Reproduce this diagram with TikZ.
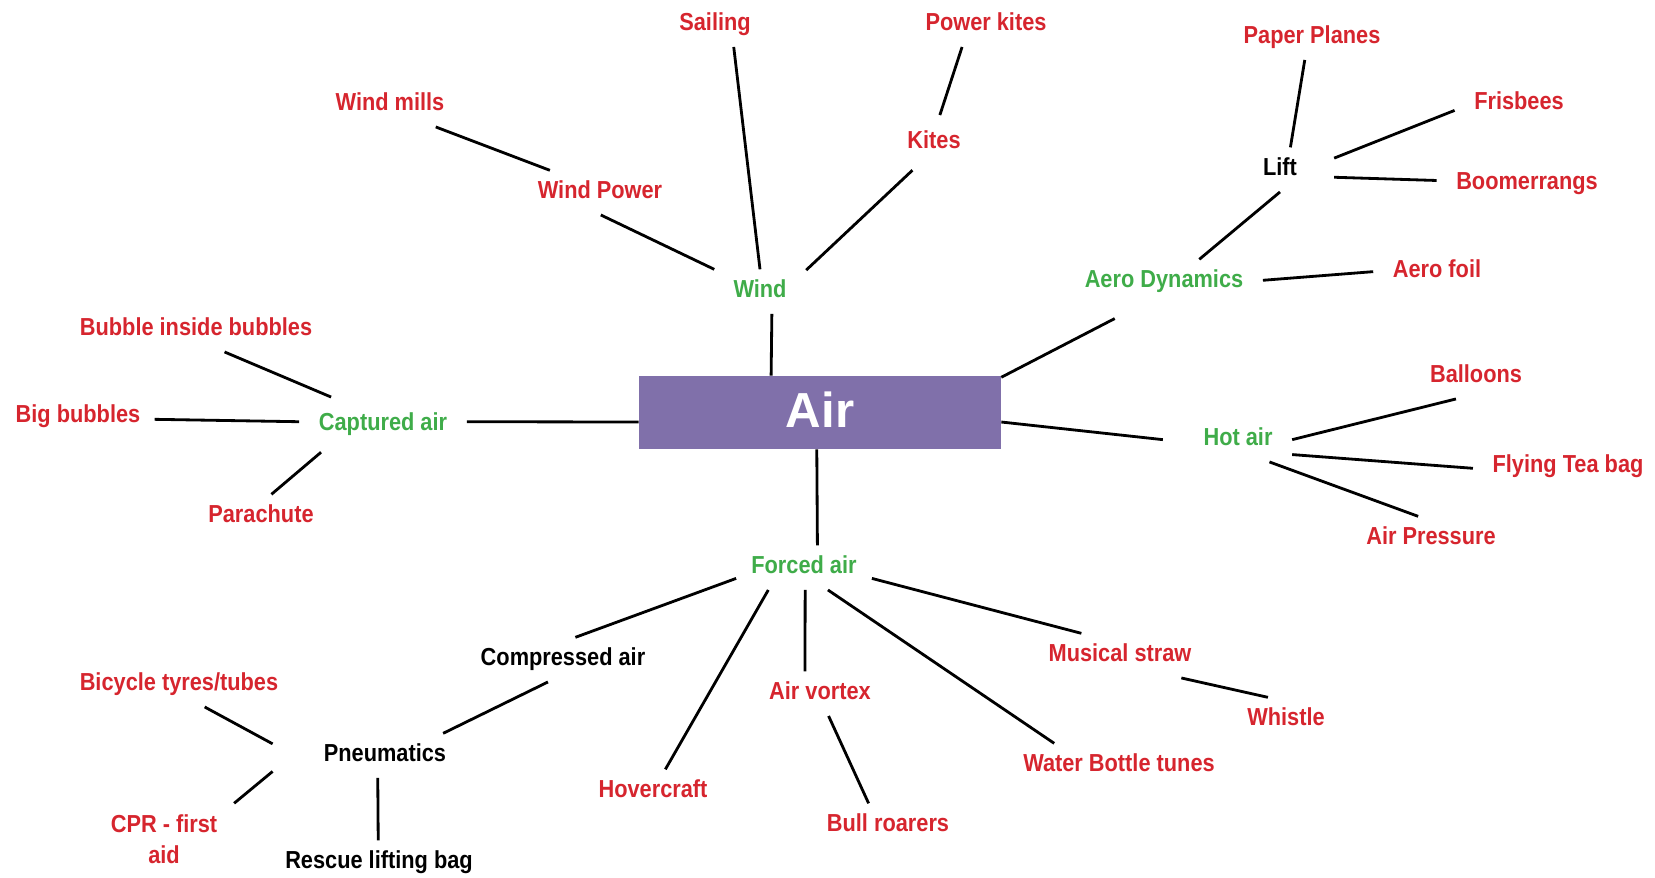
\documentclass[tikz,border=0pt]{standalone}
\usepackage{fontspec}
\setmainfont{Liberation Sans}
\newfontfamily\narrowsans{Liberation Sans}[FakeStretch=0.885]
\definecolor{airpurple}{RGB}{128,112,170}
\definecolor{airred}{RGB}{214,37,46}
\definecolor{airgreen}{RGB}{63,172,73}
\tikzset{
  lbl/.style={font=\narrowsans\bfseries\fontsize{14}{18}\selectfont, inner xsep=11pt, inner ysep=6pt},
  one/.style={lbl, text height=10pt, text depth=3pt, yshift=-1.5pt},
  idea/.style={one, text=airred},
  group/.style={one, text=airgreen},
  sub/.style={one, text=black},
  link/.style={line width=1.6pt},
}
\begin{document}
\begin{tikzpicture}[x=0.02cm,y=-0.02cm]
  \useasboundingbox (0,0) rectangle (1655,877);
  % centre
  \node (air) at (820,412.5) [fill=airpurple, minimum width=7.24cm, minimum height=1.46cm, inner sep=0pt,
    text=white, text depth=3.4pt, font=\bfseries\fontsize{28}{32}\selectfont] {Air};
  % wind
  \node (wind) at (760,289) [group] {Wind};
  \node (windpower) at (600,190) [idea] {Wind Power};
  \node (windmills) at (390,102) [idea] {Wind mills};
  \node (sailing) at (715,22) [idea] {Sailing};
  \node (kites) at (934,140) [idea, inner ysep=9pt] {Kites};
  \node (powerkites) at (986,22) [idea] {Power kites};
  % aero dynamics
  \node (aero) at (1164,286.3) [group, text depth=11.3pt] {Aero Dynamics};
  \node (lift) at (1280,167) [sub, inner xsep=21pt] {Lift};
  \node (paper) at (1312,35) [idea] {Paper Planes};
  \node (frisbees) at (1519,101) [idea] {Frisbees};
  \node (boomer) at (1527,181) [idea] {Boomerrangs};
  \node (aerofoil) at (1437,269) [idea] {Aero foil};
  % hot air
  \node (hotair) at (1227.5,437) [group, text width=1.8cm, align=flush right] {Hot air};
  \node (balloons) at (1476,374) [idea] {Balloons};
  \node (teabag) at (1568,464) [idea] {Flying Tea bag};
  \node (pressure) at (1431,536) [idea] {Air Pressure};
  % captured air
  \node (captured) at (383,422) [group, inner ysep=9pt] {Captured air};
  \node (bubble) at (196,327) [idea] {Bubble inside bubbles};
  \node (bigbub) at (78,414) [idea, inner xsep=8pt] {Big bubbles};
  \node (parachute) at (261,514) [idea] {Parachute};
  % forced air
  \node (forced) at (804,565) [group, inner xsep=8.5pt] {Forced air};
  \node (compressed) at (563,657) [sub] {Compressed air};
  \node (pneumatics) at (385,753) [sub, inner xsep=29pt] {Pneumatics};
  \node (bicycle) at (179,682) [idea] {Bicycle tyres/tubes};
  \node (cpr) at (164,839) [lbl, text=airred, align=center] {CPR - first\\aid};
  \node (rescue) at (379,860) [sub] {Rescue lifting bag};
  \node (hovercraft) at (653,789) [idea] {Hovercraft};
  \node (vortex) at (820,691) [idea] {Air vortex};
  \node (bull) at (888,823) [idea] {Bull roarers};
  \node (musical) at (1120,653) [idea] {Musical straw};
  \node (whistle) at (1286,717) [idea] {Whistle};
  \node (bottle) at (1119,763) [idea] {Water Bottle tunes};

  \draw [link] (air.143.7) -- (wind.298);
  \draw [link] (wind.154) -- (windpower.272);
  \draw [link] (windpower.156) -- (windmills.334.5);
  \draw [link] (wind.90) -- (sailing.310);
  \draw [link] (wind.25) -- (kites.232);
  \draw [link] (kites.78) -- (powerkites.223);
  \draw [link] (air.11.5) -- (aero.211);
  \draw [link] (aero.40.8) -- (lift.270);
  \draw [link] (aero.5.8) -- (aerofoil.180);
  \draw [link] (lift.65) -- (paper.252);
  \draw [link] (lift.12.5) -- (frisbees.186);
  \draw [link] (lift.352.5) -- (boomer.178.7);
  \draw [link] (air.357) -- (hotair.180);
  \draw [link] (hotair.0) -- (balloons.228);
  \draw [link] (hotair.347) -- (teabag.181);
  \draw [link] (hotair.332) -- (pressure.120.6);
  \draw [link] (air.183) -- (captured.2);
  \draw [link] (captured.152) -- (bubble.322.5);
  \draw [link] (captured.178.7) -- (bigbub.358.5);
  \draw [link] (captured.204) -- (parachute.65.4);
  \draw [link] (air.265.3) -- (forced.59);
  \draw [link] (forced.189.4) -- (compressed.61);
  \draw [link] (compressed.236) -- (pneumatics.21);
  \draw [link] (pneumatics.174.4) -- (bicycle.319);
  \draw [link] (pneumatics.188.6) -- (cpr.27.2);
  \draw [link] (pneumatics.252) -- (rescue.92);
  \draw [link] (forced.212) -- (hovercraft.61.6);
  \draw [link] (forced.273) -- (vortex.124);
  \draw [link] (vortex.291) -- (bull.131.8);
  \draw [link] (forced.317) -- (bottle.161.6);
  \draw [link] (forced.351) -- (musical.150.6);
  \draw [link] (musical.340) -- (whistle.129.5);
\end{tikzpicture}
\end{document}
